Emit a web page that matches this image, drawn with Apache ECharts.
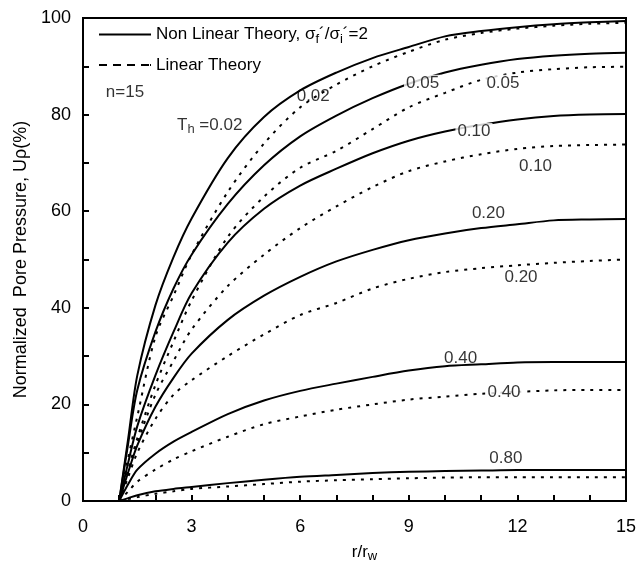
<!DOCTYPE html>
<html>
<head>
<meta charset="utf-8">
<script src="https://cdn.jsdelivr.net/npm/echarts@6/dist/echarts.min.js"></script>
<style>
  html, body { margin: 0; padding: 0; background: #fff; }
  #main { width: 641px; height: 563px; }
</style>
</head>
<body>
<div id="main"></div>
<script>
// r/rw 取样点
var rs = [1, 1.25, 1.5, 2, 2.5, 3, 4, 5, 6, 7, 8, 9, 10, 11, 12, 13, 14, 15];

// Non linear theory (solid)
var nl002 = [0, 13, 26, 40.5, 50.5, 58.5, 71, 79.5, 85, 88.7, 91.7, 94, 96.2, 97.3, 98.1, 98.7, 99.1, 99.4];
var nl005 = [0, 12, 23, 35, 44, 51, 61.5, 69.5, 75.5, 79.8, 83.4, 86.4, 88.7, 90.3, 91.5, 92.2, 92.6, 92.8];
var nl010 = [0, 8, 15.5, 26, 35, 43, 53.5, 60.5, 65.3, 68.8, 72, 74.6, 76.5, 77.9, 79, 79.7, 80, 80.1];
var nl020 = [0, 6, 11.5, 19.5, 25.5, 30.5, 37.5, 42.5, 46.4, 49.6, 52, 54, 55.4, 56.5, 57.3, 58.1, 58.3, 58.4];
var nl040 = [0, 3.5, 6.5, 9.8, 12.3, 14.3, 18, 20.8, 22.8, 24.3, 25.7, 27, 27.9, 28.3, 28.7, 28.8, 28.8, 28.8];
var nl080 = [0, 0.6, 1.2, 2, 2.5, 2.9, 3.7, 4.4, 5.0, 5.4, 5.8, 6.05, 6.2, 6.3, 6.4, 6.4, 6.4, 6.4];

// Linear theory (dotted)
var li002 = [0, 9, 17.5, 34, 42.5, 51, 64, 74, 81.5, 86.2, 90, 93, 95.5, 96.9, 97.8, 98.4, 98.8, 99];
var li005 = [0, 6.5, 13, 24, 33, 41.5, 54.7, 63, 69, 72.5, 77, 81.5, 84.5, 87.2, 88.7, 89.4, 89.8, 89.9];
var li010 = [0, 6, 12, 22, 29, 35.5, 44.5, 51, 56.5, 61, 65, 68.3, 70.3, 71.8, 72.9, 73.5, 73.7, 73.8];
var li020 = [0, 5, 10, 17, 22, 25, 30, 34.5, 38.5, 41, 44, 46, 47.4, 48.2, 48.8, 49.3, 49.7, 50];
var li040 = [0, 2, 4, 6.5, 8.6, 10.3, 13.3, 15.9, 17.5, 18.9, 20, 21, 21.6, 22.2, 22.6, 22.9, 23, 23];
var li080 = [0, 0.4, 0.8, 1.5, 2, 2.5, 3.0, 3.5, 4.0, 4.3, 4.5, 4.7, 4.85, 4.9, 4.9, 4.9, 4.9, 4.9];

// 曲线上的标注 [r/rw, U, text, 是否挡线]
var notes = [
    [1.16, 84.7, 'n=15', 0],
    [3.5, 77.8, 'T{s|h} =0.02', 0],
    [6.36, 83.8, '0.02', 0],
    [9.38, 86.5, '0.05', 1],
    [11.6, 86.5, '0.05', 1],
    [10.8, 76.5, '0.10', 1],
    [12.5, 69.2, '0.10', 0],
    [11.2, 59.6, '0.20', 0],
    [12.1, 46.4, '0.20', 0],
    [10.43, 29.5, '0.40', 0],
    [11.63, 22.5, '0.40', 1],
    [11.68, 8.8, '0.80', 0]
];

var NL = 'nl', LI = 'li';
var font = '"Liberation Sans", Arial, sans-serif';

function pairs(ys) {
    return rs.map(function (r, i) { return [r, ys[i]]; });
}

function curve(name, ys, z) {
    var solid = name === NL;
    return {
        name: name,
        type: 'line',
        data: pairs(ys),
        symbol: 'none',
        smooth: 0.3,
        silent: true,
        z: z,
        itemStyle: { color: '#000' },
        lineStyle: solid
            ? { color: '#000', width: 2 }
            : { color: '#000', width: 2, type: [3, 6] }
    };
}

var series = [
    curve(NL, nl002, 3), curve(NL, nl005, 3), curve(NL, nl010, 3),
    curve(NL, nl020, 3), curve(NL, nl040, 3), curve(NL, nl080, 3),
    curve(LI, li002, 2), curve(LI, li005, 2), curve(LI, li010, 2),
    curve(LI, li020, 2), curve(LI, li040, 2), curve(LI, li080, 2)
];

series.push({
    type: 'scatter',
    symbolSize: 0,
    silent: true,
    z: 10,
    data: notes.map(function (n) {
        return {
            value: [n[0], n[1]],
            label: {
                show: true,
                position: 'inside',
                formatter: n[2],
                fontFamily: font,
                fontSize: 17,
                color: '#000',
                backgroundColor: n[3] ? '#fff' : 'transparent',
                padding: [0, 2],
                rich: {
                    s: { fontSize: 13, fontFamily: font, padding: [9, 0, 0, 0], backgroundColor: 'transparent' }
                }
            }
        };
    })
});

var myChart = echarts.init(document.getElementById('main'));

// 图例图标：实线 / 虚线
var solidIcon = 'path://M0,0h52v2h-52z';
var dashIcon = 'path://M0,0h8v2h-8zM14,0h8v2h-8zM28,0h8v2h-8zM42,0h8v2h-8zM51,0h1v2h-1z';

var option = {
    animation: false,
    backgroundColor: '#fff',
    grid: {
        left: 83, right: 15, top: 18, bottom: 62,
        outerBoundsMode: 'none',
        show: true, borderColor: '#000', borderWidth: 2
    },
    legend: {
        data: [{ name: NL, icon: solidIcon }, { name: LI, icon: dashIcon }],
        orient: 'vertical',
        left: 94,
        top: 21,
        itemWidth: 52,
        itemHeight: 14,
        itemGap: 11,
        selectedMode: false,
        formatter: function (name) {
            return name === NL
                ? 'Non Linear Theory, σ{s|f}´/σ{s|i}´=2'
                : 'Linear Theory';
        },
        textStyle: {
            fontFamily: font,
            fontSize: 17,
            color: '#000',
            rich: {
                s: { fontSize: 13, fontFamily: font, color: '#000', padding: [9, 0, 0, 0] }
            }
        }
    },
    xAxis: {
        type: 'value',
        min: 0, max: 15, interval: 3,
        name: 'r/r{s|w}',
        nameLocation: 'middle',
        nameGap: 40,
        nameTextStyle: {
            fontFamily: font, fontSize: 17, color: '#000', padding: [0, 0, 0, 20],
            rich: { s: { fontSize: 13, fontFamily: font, padding: [9, 0, 0, 0] } }
        },
        axisLine: { lineStyle: { color: '#000', width: 2 } },
        axisTick: { inside: true, length: 6, lineStyle: { color: '#000', width: 2 } },
        minorTick: { show: true, splitNumber: 3, length: 6, lineStyle: { color: '#000', width: 2 } },
        splitLine: { show: false },
        axisLabel: { fontFamily: font, fontSize: 18, color: '#000', margin: 17 }
    },
    yAxis: {
        type: 'value',
        min: 0, max: 100, interval: 20,
        name: 'Normalized  Pore Pressure, Uρ(%)',
        nameLocation: 'middle',
        nameGap: 52,
        nameTextStyle: { fontFamily: font, fontSize: 18, color: '#000' },
        axisLine: { lineStyle: { color: '#000', width: 2 } },
        axisTick: { inside: true, length: 6, lineStyle: { color: '#000', width: 2 } },
        minorTick: { show: true, splitNumber: 2, length: 6, lineStyle: { color: '#000', width: 2 } },
        splitLine: { show: false },
        axisLabel: { fontFamily: font, fontSize: 18, color: '#000', margin: 12 }
    },
    series: series
};

myChart.setOption(option);
</script>
</body>
</html>
